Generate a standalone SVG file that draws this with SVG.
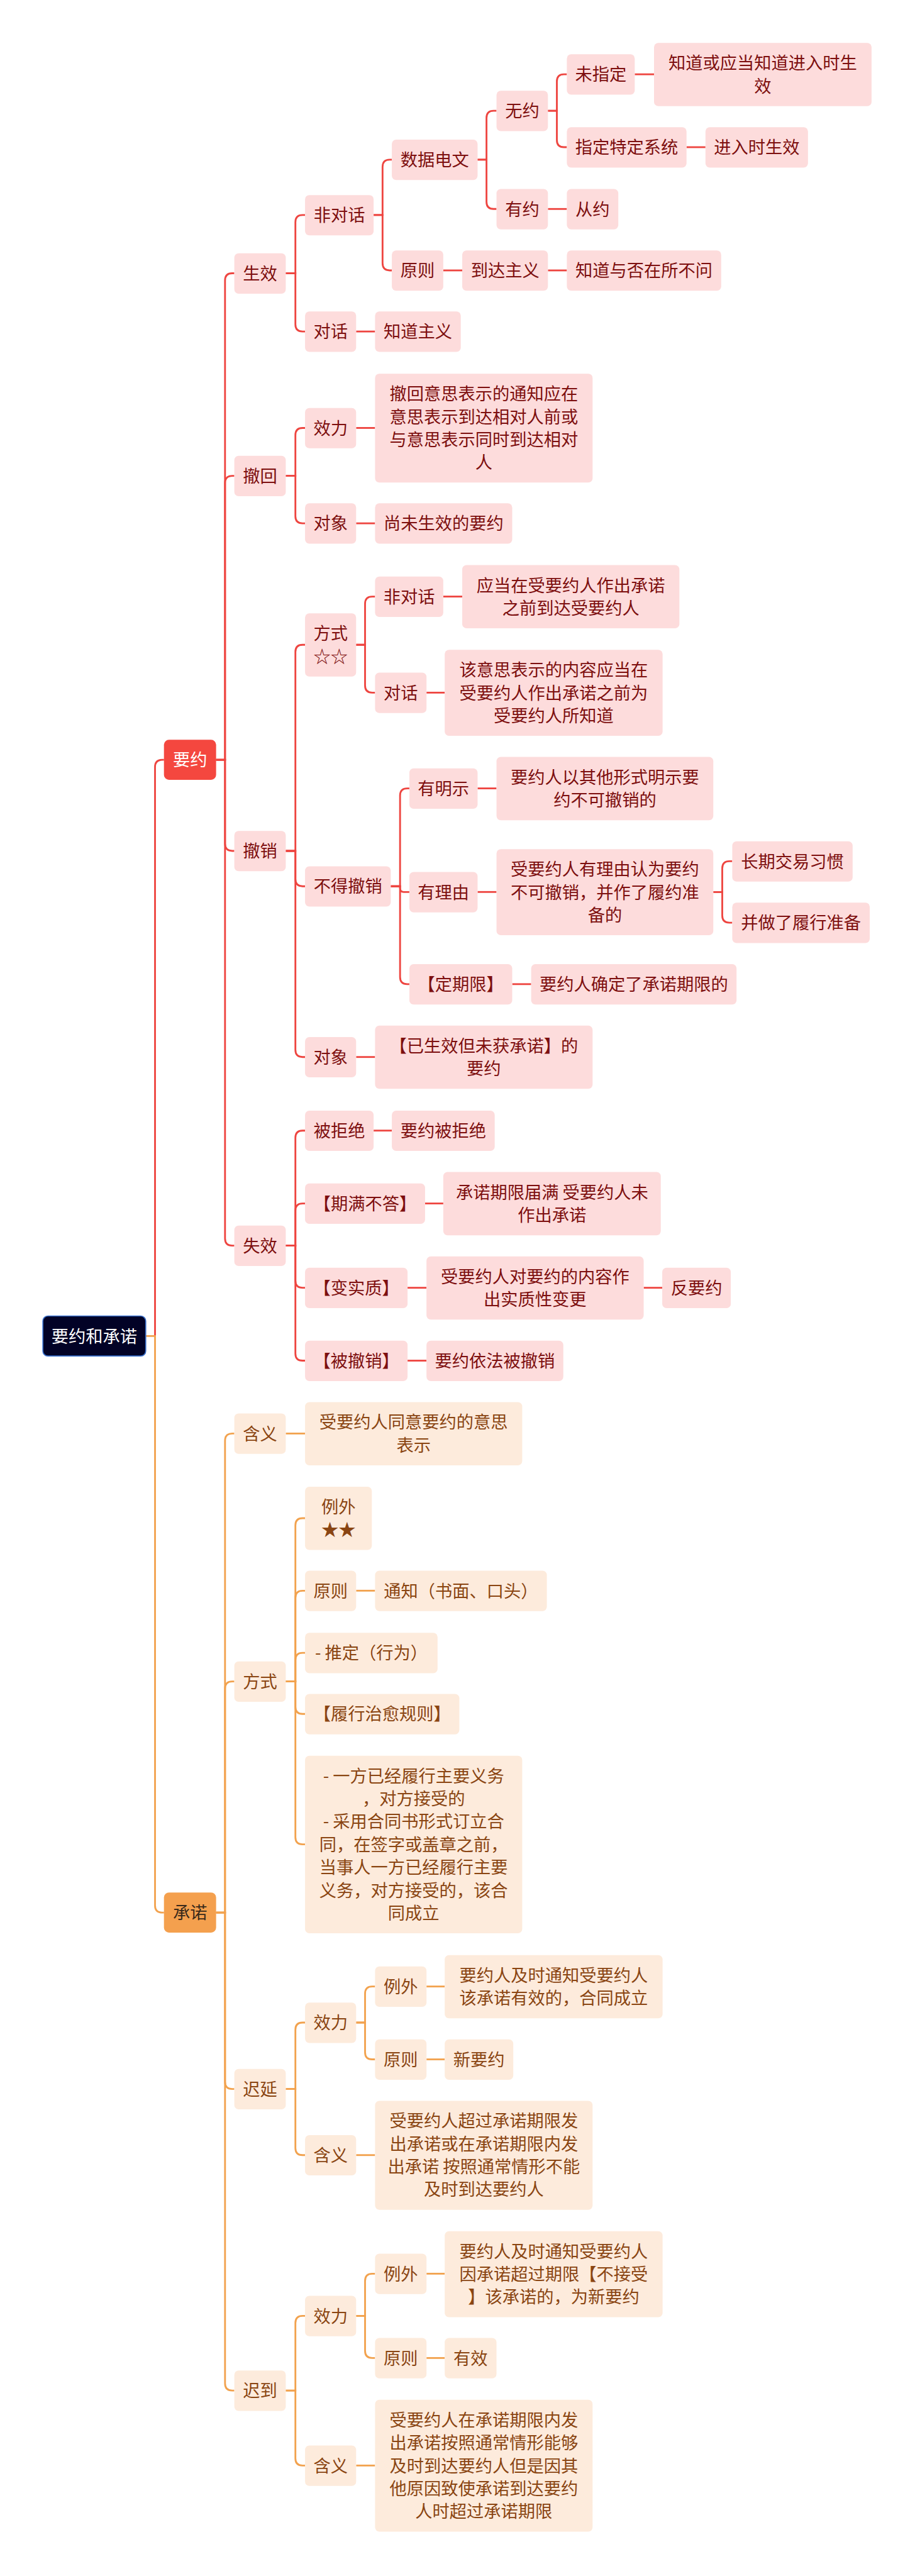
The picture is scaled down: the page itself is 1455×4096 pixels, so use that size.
<svg xmlns="http://www.w3.org/2000/svg" width="1455" height="4096" viewBox="0 0 1455 4096">
<style>
text{font-family:"Noto Sans CJK SC","Noto Sans",sans-serif;font-size:48px;text-anchor:middle}
.r rect{fill:#FDDCDC}
.r text{fill:#7D0F0F}
.o rect{fill:#FDEBDC}
.o text{fill:#8A4512}
.lr path{fill:none;stroke:#EE4540;stroke-width:5}
.lo path{fill:none;stroke:#F2A24E;stroke-width:5}
</style>
<rect width="1455" height="4096" fill="#ffffff"/>
<g transform="scale(0.568)">
<g id="connectors">
<g class="lr">
<path d="M434 3740 V2147 Q434 2127 454 2127 H459"/>
<path d="M605 2127 H630 V785 Q630 765 650 765 H656"/>
<path d="M605 2127 H630 V1352 Q630 1332 650 1332 H656"/>
<path d="M605 2127 H630 V2362 Q630 2382 650 2382 H656"/>
<path d="M605 2127 H630 V3467 Q630 3487 650 3487 H656"/>
<path d="M800 765 H827 V622 Q827 602 847 602 H854"/>
<path d="M800 765 H827 V908 Q827 928 847 928 H854"/>
<path d="M800 1332 H827 V1218 Q827 1198 847 1198 H854"/>
<path d="M800 1332 H827 V1445 Q827 1465 847 1465 H854"/>
<path d="M800 2382 H827 V1825 Q827 1805 847 1805 H854"/>
<path d="M800 2382 H827 V2461 Q827 2481 847 2481 H854"/>
<path d="M800 2382 H827 V2939 Q827 2959 847 2959 H854"/>
<path d="M800 3487 H827 V3185 Q827 3165 847 3165 H854"/>
<path d="M800 3487 H827 V3389 Q827 3369 847 3369 H854"/>
<path d="M800 3487 H827 V3585 Q827 3605 847 3605 H854"/>
<path d="M800 3487 H827 V3789 Q827 3809 847 3809 H854"/>
<path d="M1046 602 H1071 V467 Q1071 447 1091 447 H1097"/>
<path d="M1046 602 H1071 V737 Q1071 757 1091 757 H1097"/>
<path d="M997 928 H1050"/>
<path d="M997 1198 H1050"/>
<path d="M997 1465 H1050"/>
<path d="M997 1805 H1022 V1690 Q1022 1670 1042 1670 H1050"/>
<path d="M997 1805 H1022 V1919 Q1022 1939 1042 1939 H1050"/>
<path d="M1094 2481 H1120 V2227 Q1120 2207 1140 2207 H1146"/>
<path d="M1094 2481 H1120 V2487 Q1120 2497 1130 2497 H1146"/>
<path d="M1094 2481 H1120 V2735 Q1120 2755 1140 2755 H1146"/>
<path d="M997 2959 H1050"/>
<path d="M1046 3165 H1097"/>
<path d="M1190 3369 H1241"/>
<path d="M1141 3605 H1194"/>
<path d="M1141 3809 H1194"/>
<path d="M1337 447 H1362 V330 Q1362 310 1382 310 H1390"/>
<path d="M1337 447 H1362 V565 Q1362 585 1382 585 H1390"/>
<path d="M1241 757 H1294"/>
<path d="M1241 1670 H1294"/>
<path d="M1194 1939 H1245"/>
<path d="M1337 2207 H1390"/>
<path d="M1337 2497 H1390"/>
<path d="M1434 2755 H1487"/>
<path d="M1802 3605 H1854"/>
<path d="M1534 310 H1559 V228 Q1559 208 1579 208 H1587"/>
<path d="M1534 310 H1559 V392 Q1559 412 1579 412 H1587"/>
<path d="M1534 585 H1587"/>
<path d="M1534 757 H1587"/>
<path d="M1777 208 H1831"/>
<path d="M1922 412 H1975"/>
<path d="M1997 2497 H2022 V2431 Q2022 2411 2042 2411 H2050"/>
<path d="M1997 2497 H2022 V2563 Q2022 2583 2042 2583 H2050"/>
</g>
<g class="lo">
<path d="M408 3740 H434 V5334 Q434 5354 454 5354 H459"/>
<path d="M605 5354 H630 V4033 Q630 4013 650 4013 H656"/>
<path d="M605 5354 H630 V4727 Q630 4707 650 4707 H656"/>
<path d="M605 5354 H630 V5828 Q630 5848 650 5848 H656"/>
<path d="M605 5354 H630 V6672 Q630 6692 650 6692 H656"/>
<path d="M800 4013 H854"/>
<path d="M800 4707 H827 V4270 Q827 4250 847 4250 H854"/>
<path d="M800 4707 H827 V4473 Q827 4453 847 4453 H854"/>
<path d="M800 4707 H827 V4647 Q827 4627 847 4627 H854"/>
<path d="M800 4707 H827 V4778 Q827 4798 847 4798 H854"/>
<path d="M800 4707 H827 V5143 Q827 5163 847 5163 H854"/>
<path d="M997 4453 H1050"/>
<path d="M800 5848 H827 V5682 Q827 5662 847 5662 H854"/>
<path d="M800 5848 H827 V6013 Q827 6033 847 6033 H854"/>
<path d="M997 5662 H1022 V5581 Q1022 5561 1042 5561 H1050"/>
<path d="M997 5662 H1022 V5745 Q1022 5765 1042 5765 H1050"/>
<path d="M1194 5561 H1245"/>
<path d="M1194 5765 H1245"/>
<path d="M997 6033 H1050"/>
<path d="M800 6692 H827 V6503 Q827 6483 847 6483 H854"/>
<path d="M800 6692 H827 V6882 Q827 6902 847 6902 H854"/>
<path d="M997 6483 H1022 V6385 Q1022 6365 1042 6365 H1050"/>
<path d="M997 6483 H1022 V6581 Q1022 6601 1042 6601 H1050"/>
<path d="M1194 6365 H1245"/>
<path d="M1194 6601 H1245"/>
<path d="M997 6902 H1050"/>
</g>
</g>

<g id="root"><rect x="120" y="3684" width="288" height="112" rx="14" fill="#020226" stroke="#3A70CC" stroke-width="3"/><text x="264" y="3758" fill="#ffffff">要约和承诺</text></g>
<g id="n-yaoyue"><rect x="459" y="2071" width="146" height="112" rx="14" fill="#F4473F"/><text x="532" y="2145" fill="#ffffff">要约</text></g>
<g id="n-chengnuo"><rect x="459" y="5298" width="146" height="112" rx="14" fill="#F4A04E"/><text x="532" y="5372" fill="#3A2A1A">承诺</text></g>

<g id="n-shengxiao" class="r"><rect x="656" y="709" width="144" height="113" rx="12"/><text x="728" y="783">生效</text></g>
<g id="n-feiduihua1" class="r"><rect x="854" y="546" width="192" height="113" rx="12"/><text x="950" y="620">非对话</text></g>
<g id="n-duihua1" class="r"><rect x="854" y="872" width="143" height="113" rx="12"/><text x="925.5" y="946">对话</text></g>
<g id="n-zhidaozhuyi" class="r"><rect x="1050" y="872" width="240" height="113" rx="12"/><text x="1170" y="946">知道主义</text></g>
<g id="n-shujudianwen" class="r"><rect x="1097" y="391" width="240" height="113" rx="12"/><text x="1217" y="465">数据电文</text></g>
<g id="n-yuanze1" class="r"><rect x="1097" y="701" width="144" height="113" rx="12"/><text x="1169" y="775">原则</text></g>
<g id="n-daodazhuyi" class="r"><rect x="1294" y="701" width="240" height="113" rx="12"/><text x="1414" y="775">到达主义</text></g>
<g id="n-zhidaoyufou" class="r"><rect x="1587" y="701" width="432" height="113" rx="12"/><text x="1803" y="775">知道与否在所不问</text></g>
<g id="n-wuyue" class="r"><rect x="1390" y="254" width="144" height="113" rx="12"/><text x="1462" y="328">无约</text></g>
<g id="n-youyue" class="r"><rect x="1390" y="529" width="144" height="113" rx="12"/><text x="1462" y="603">有约</text></g>
<g id="n-congyue" class="r"><rect x="1587" y="529" width="144" height="113" rx="12"/><text x="1659" y="603">从约</text></g>
<g id="n-weizhiding" class="r"><rect x="1587" y="152" width="190" height="113" rx="12"/><text x="1682" y="226">未指定</text></g>
<g id="n-zhidaohuo" class="r"><rect x="1831" y="120" width="609" height="177" rx="12"/><text x="2135.5" y="194">知道或应当知道进入时生</text><text x="2135.5" y="258">效</text></g>
<g id="n-zhidingxitong" class="r"><rect x="1587" y="356" width="335" height="113" rx="12"/><text x="1754.5" y="430">指定特定系统</text></g>
<g id="n-jinru" class="r"><rect x="1975" y="356" width="287" height="113" rx="12"/><text x="2118.5" y="430">进入时生效</text></g>

<g id="n-chehui" class="r"><rect x="656" y="1276" width="144" height="113" rx="12"/><text x="728" y="1350">撤回</text></g>
<g id="n-xiaoli1" class="r"><rect x="854" y="1142" width="143" height="113" rx="12"/><text x="925.5" y="1216">效力</text></g>
<g id="n-chehuitext" class="r"><rect x="1050" y="1046" width="609" height="305" rx="12"/><text x="1354.5" y="1120">撤回意思表示的通知应在</text><text x="1354.5" y="1184">意思表示到达相对人前或</text><text x="1354.5" y="1248">与意思表示同时到达相对</text><text x="1354.5" y="1312">人</text></g>
<g id="n-duixiang1" class="r"><rect x="854" y="1409" width="143" height="113" rx="12"/><text x="925.5" y="1483">对象</text></g>
<g id="n-shangwei" class="r"><rect x="1050" y="1409" width="384" height="113" rx="12"/><text x="1242" y="1483">尚未生效的要约</text></g>

<g id="n-chexiao" class="r"><rect x="656" y="2326" width="144" height="113" rx="12"/><text x="728" y="2400">撤销</text></g>
<g id="n-fangshi1" class="r"><rect x="854" y="1717" width="143" height="177" rx="12"/><text x="925.5" y="1791">方式</text><text x="925.5" y="1855">☆☆</text></g>
<g id="n-feiduihua2" class="r"><rect x="1050" y="1614" width="191" height="113" rx="12"/><text x="1145.5" y="1688">非对话</text></g>
<g id="n-yingdang" class="r"><rect x="1294" y="1582" width="608" height="177" rx="12"/><text x="1598" y="1656">应当在受要约人作出承诺</text><text x="1598" y="1720">之前到达受要约人</text></g>
<g id="n-duihua2" class="r"><rect x="1050" y="1883" width="144" height="113" rx="12"/><text x="1122" y="1957">对话</text></g>
<g id="n-gaiyisi" class="r"><rect x="1245" y="1819" width="610" height="241" rx="12"/><text x="1550" y="1893">该意思表示的内容应当在</text><text x="1550" y="1957">受要约人作出承诺之前为</text><text x="1550" y="2021">受要约人所知道</text></g>
<g id="n-budechexiao" class="r"><rect x="854" y="2425" width="240" height="113" rx="12"/><text x="974" y="2499">不得撤销</text></g>
<g id="n-youmingshi" class="r"><rect x="1146" y="2151" width="191" height="113" rx="12"/><text x="1241.5" y="2225">有明示</text></g>
<g id="n-mingshitext" class="r"><rect x="1390" y="2119" width="607" height="177" rx="12"/><text x="1693.5" y="2193">要约人以其他形式明示要</text><text x="1693.5" y="2257">约不可撤销的</text></g>
<g id="n-youliyou" class="r"><rect x="1146" y="2441" width="191" height="113" rx="12"/><text x="1241.5" y="2515">有理由</text></g>
<g id="n-liyoutext" class="r"><rect x="1390" y="2377" width="607" height="241" rx="12"/><text x="1693.5" y="2451">受要约人有理由认为要约</text><text x="1693.5" y="2515">不可撤销，并作了履约准</text><text x="1693.5" y="2579">备的</text></g>
<g id="n-changqi" class="r"><rect x="2050" y="2355" width="337" height="113" rx="12"/><text x="2218.5" y="2429">长期交易习惯</text></g>
<g id="n-bingzuole" class="r"><rect x="2050" y="2527" width="385" height="113" rx="12"/><text x="2242.5" y="2601">并做了履行准备</text></g>
<g id="n-dingqixian" class="r"><rect x="1146" y="2699" width="288" height="113" rx="12"/><text x="1290" y="2773">【定期限】</text></g>
<g id="n-queding" class="r"><rect x="1487" y="2699" width="575" height="113" rx="12"/><text x="1774.5" y="2773">要约人确定了承诺期限的</text></g>
<g id="n-duixiang2" class="r"><rect x="854" y="2903" width="143" height="113" rx="12"/><text x="925.5" y="2977">对象</text></g>
<g id="n-yishengxiao" class="r"><rect x="1050" y="2871" width="609" height="177" rx="12"/><text x="1354.5" y="2945">【已生效但未获承诺】的</text><text x="1354.5" y="3009">要约</text></g>

<g id="n-shixiao" class="r"><rect x="656" y="3431" width="144" height="113" rx="12"/><text x="728" y="3505">失效</text></g>
<g id="n-beijujue" class="r"><rect x="854" y="3109" width="192" height="113" rx="12"/><text x="950" y="3183">被拒绝</text></g>
<g id="n-yaoyuebeijujue" class="r"><rect x="1097" y="3109" width="288" height="113" rx="12"/><text x="1241" y="3183">要约被拒绝</text></g>
<g id="n-qiman" class="r"><rect x="854" y="3313" width="336" height="113" rx="12"/><text x="1022" y="3387">【期满不答】</text></g>
<g id="n-qimantext" class="r"><rect x="1241" y="3281" width="609" height="177" rx="12"/><text x="1545.5" y="3355">承诺期限届满 受要约人未</text><text x="1545.5" y="3419">作出承诺</text></g>
<g id="n-bianshizhi" class="r"><rect x="854" y="3549" width="287" height="113" rx="12"/><text x="997.5" y="3623">【变实质】</text></g>
<g id="n-bianshizhitext" class="r"><rect x="1194" y="3517" width="608" height="177" rx="12"/><text x="1498" y="3591">受要约人对要约的内容作</text><text x="1498" y="3655">出实质性变更</text></g>
<g id="n-fanyaoyue" class="r"><rect x="1854" y="3549" width="192" height="113" rx="12"/><text x="1950" y="3623">反要约</text></g>
<g id="n-beichexiao" class="r"><rect x="854" y="3753" width="287" height="113" rx="12"/><text x="997.5" y="3827">【被撤销】</text></g>
<g id="n-yifa" class="r"><rect x="1194" y="3753" width="383" height="113" rx="12"/><text x="1385.5" y="3827">要约依法被撤销</text></g>

<g id="n-hanyi1" class="o"><rect x="656" y="3957" width="144" height="113" rx="12"/><text x="728" y="4031">含义</text></g>
<g id="n-tongyi" class="o"><rect x="854" y="3925" width="608" height="177" rx="12"/><text x="1158" y="3999">受要约人同意要约的意思</text><text x="1158" y="4063">表示</text></g>
<g id="n-fangshi2" class="o"><rect x="656" y="4651" width="144" height="113" rx="12"/><text x="728" y="4725">方式</text></g>
<g id="n-liwai1" class="o"><rect x="854" y="4162" width="187" height="177" rx="12"/><text x="947.5" y="4236">例外</text><text x="947.5" y="4300">★★</text></g>
<g id="n-yuanze2" class="o"><rect x="854" y="4397" width="143" height="113" rx="12"/><text x="925.5" y="4471">原则</text></g>
<g id="n-tongzhi" class="o"><rect x="1050" y="4397" width="481" height="113" rx="12"/><text x="1290.5" y="4471">通知（书面、口头）</text></g>
<g id="n-tuiding" class="o"><rect x="854" y="4571" width="371" height="113" rx="12"/><text x="1039.5" y="4645">- 推定（行为）</text></g>
<g id="n-lvxing" class="o"><rect x="854" y="4742" width="432" height="113" rx="12"/><text x="1070" y="4816">【履行治愈规则】</text></g>
<g id="n-big" class="o"><rect x="854" y="4915" width="608" height="497" rx="12"/><text x="1158" y="4989">- 一方已经履行主要义务</text><text x="1158" y="5053">，对方接受的</text><text x="1158" y="5117">- 采用合同书形式订立合</text><text x="1158" y="5181">同，在签字或盖章之前，</text><text x="1158" y="5245">当事人一方已经履行主要</text><text x="1158" y="5309">义务，对方接受的，该合</text><text x="1158" y="5373">同成立</text></g>

<g id="n-chiyan" class="o"><rect x="656" y="5792" width="144" height="113" rx="12"/><text x="728" y="5866">迟延</text></g>
<g id="n-xiaoli2" class="o"><rect x="854" y="5606" width="143" height="113" rx="12"/><text x="925.5" y="5680">效力</text></g>
<g id="n-liwai2" class="o"><rect x="1050" y="5505" width="144" height="113" rx="12"/><text x="1122" y="5579">例外</text></g>
<g id="n-liwai2text" class="o"><rect x="1245" y="5473" width="610" height="177" rx="12"/><text x="1550" y="5547">要约人及时通知受要约人</text><text x="1550" y="5611">该承诺有效的，合同成立</text></g>
<g id="n-yuanze3" class="o"><rect x="1050" y="5709" width="144" height="113" rx="12"/><text x="1122" y="5783">原则</text></g>
<g id="n-xinyaoyue" class="o"><rect x="1245" y="5709" width="192" height="113" rx="12"/><text x="1341" y="5783">新要约</text></g>
<g id="n-hanyi2" class="o"><rect x="854" y="5977" width="143" height="113" rx="12"/><text x="925.5" y="6051">含义</text></g>
<g id="n-hanyi2text" class="o"><rect x="1050" y="5881" width="609" height="305" rx="12"/><text x="1354.5" y="5955">受要约人超过承诺期限发</text><text x="1354.5" y="6019">出承诺或在承诺期限内发</text><text x="1354.5" y="6083">出承诺 按照通常情形不能</text><text x="1354.5" y="6147">及时到达要约人</text></g>

<g id="n-chidao" class="o"><rect x="656" y="6636" width="144" height="113" rx="12"/><text x="728" y="6710">迟到</text></g>
<g id="n-xiaoli3" class="o"><rect x="854" y="6427" width="143" height="113" rx="12"/><text x="925.5" y="6501">效力</text></g>
<g id="n-liwai3" class="o"><rect x="1050" y="6309" width="144" height="113" rx="12"/><text x="1122" y="6383">例外</text></g>
<g id="n-liwai3text" class="o"><rect x="1245" y="6246" width="610" height="241" rx="12"/><text x="1550" y="6320">要约人及时通知受要约人</text><text x="1550" y="6384">因承诺超过期限【不接受</text><text x="1550" y="6448">】该承诺的，为新要约</text></g>
<g id="n-yuanze4" class="o"><rect x="1050" y="6545" width="144" height="113" rx="12"/><text x="1122" y="6619">原则</text></g>
<g id="n-youxiao" class="o"><rect x="1245" y="6545" width="145" height="113" rx="12"/><text x="1317.5" y="6619">有效</text></g>
<g id="n-hanyi3" class="o"><rect x="854" y="6846" width="143" height="113" rx="12"/><text x="925.5" y="6920">含义</text></g>
<g id="n-hanyi3text" class="o"><rect x="1050" y="6718" width="609" height="369" rx="12"/><text x="1354.5" y="6792">受要约人在承诺期限内发</text><text x="1354.5" y="6856">出承诺按照通常情形能够</text><text x="1354.5" y="6920">及时到达要约人但是因其</text><text x="1354.5" y="6984">他原因致使承诺到达要约</text><text x="1354.5" y="7048">人时超过承诺期限</text></g>
</g>
</svg>
